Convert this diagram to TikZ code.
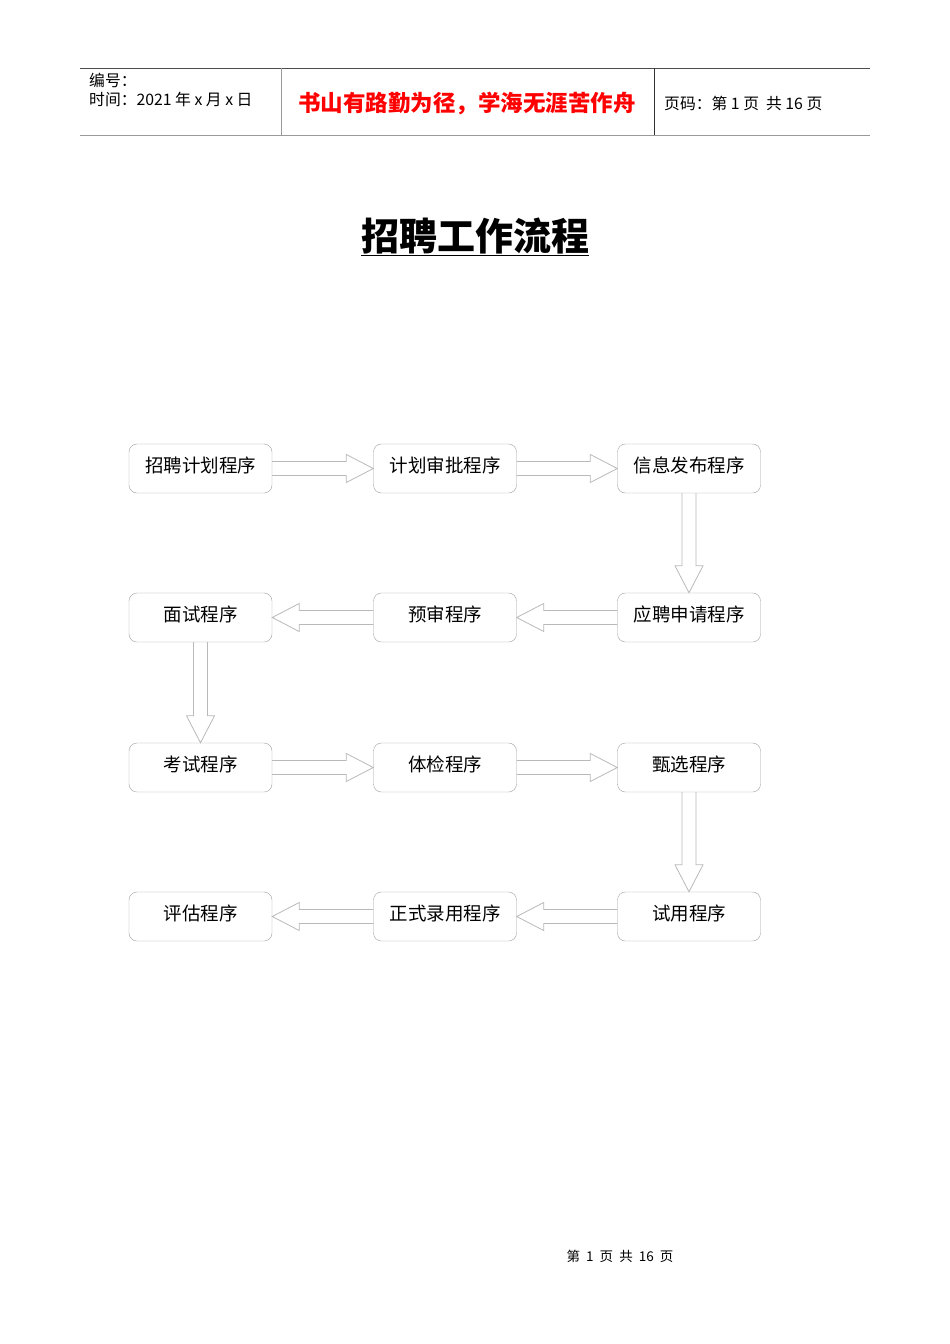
\documentclass[tikz,border=0pt]{standalone}
\usepackage{fontspec}
\newfontfamily\cjk{Noto Sans CJK SC}
\usetikzlibrary{calc}

\tikzset{
  stepbox/.style = {draw=gray!75, rounded corners=8pt, minimum width=143pt,
                    minimum height=49pt, inner sep=0pt, text height=16pt, text depth=8pt,
                    font=\cjk\fontsize{18.5}{20}\selectfont},
  arrowline/.style = {draw=gray!55, line width=0.8pt},
  headtext/.style = {anchor=west, inner sep=0pt, font=\cjk\fontsize{15.8}{17}\selectfont},
}

% hollow block arrow from #1 to #2
\newcommand\blockarrow[2]{%
  \coordinate (ba-h) at ($(#2)!27pt!(#1)$);
  \draw[arrowline] ($(#1)!7pt!90:(#2)$) -- ($(ba-h)!7pt!90:(#2)$)
    -- ($(ba-h)!14pt!90:(#2)$) -- (#2) -- ($(ba-h)!14pt!-90:(#2)$)
    -- ($(ba-h)!7pt!-90:(#2)$) -- ($(#1)!7pt!-90:(#2)$);}

\begin{document}
\begin{tikzpicture}[x=1pt, y=-1pt]
    \useasboundingbox (0,0) rectangle (950,1344);

    % page header
    \draw[black!70, line width=0.8pt] (80,68) -- (870,68);
    \draw[gray!80, line width=1.6pt] (80,135.5) -- (870,135.5);
    \draw[gray!80, line width=0.8pt] (281,68) -- (281,135);
    \draw[black!80, line width=0.8pt] (654,68) -- (654,135);
    \node[headtext] (num)  at (89,80)  {编号：};
    \node[headtext] (date) at (89,99)  {时间：2021 年 x 月 x 日};
    \node[inner sep=0pt, text=red, font=\cjk\bfseries\fontsize{22.5}{24}\selectfont]
      (motto) at (467,104) {书山有路勤为径，学海无涯苦作舟};
    \node[headtext] (page) at (664,103) {页码：第 1 页\ \ 共 16 页};

    \node[inner sep=0pt, font=\cjk\bfseries\fontsize{38}{42}\selectfont]
      (title) at (475,237) {\underline{招聘工作流程}};

    % steps
    \node[stepbox] (plan)     at (200.5,468.5) {招聘计划程序};
    \node[stepbox] (approve)  at (445,468.5)   {计划审批程序};
    \node[stepbox] (publish)  at (689,468.5)   {信息发布程序};
    \node[stepbox] (apply)    at (689,617.5)   {应聘申请程序};
    \node[stepbox] (screen)   at (445,617.5)   {预审程序};
    \node[stepbox] (interview) at (200.5,617.5) {面试程序};
    \node[stepbox] (exam)     at (200.5,767.5) {考试程序};
    \node[stepbox] (medical)  at (445,767.5)   {体检程序};
    \node[stepbox] (select)   at (689,767.5)   {甄选程序};
    \node[stepbox] (trial)    at (689,916.5)   {试用程序};
    \node[stepbox] (hire)     at (445,916.5)   {正式录用程序};
    \node[stepbox] (assess)   at (200.5,916.5) {评估程序};

    \blockarrow{plan.east}{approve.west}
    \blockarrow{approve.east}{publish.west}
    \blockarrow{publish.south}{apply.north}
    \blockarrow{apply.west}{screen.east}
    \blockarrow{screen.west}{interview.east}
    \blockarrow{interview.south}{exam.north}
    \blockarrow{exam.east}{medical.west}
    \blockarrow{medical.east}{select.west}
    \blockarrow{select.south}{trial.north}
    \blockarrow{trial.west}{hire.east}
    \blockarrow{hire.west}{assess.east}

    % footer
    \node[inner sep=0pt, font=\cjk\fontsize{13.5}{15}\selectfont]
      (footer) at (620,1256) {第\ \ 1\ \ 页\ \ 共\ \ 16\ \ 页};
\end{tikzpicture}
\end{document}
